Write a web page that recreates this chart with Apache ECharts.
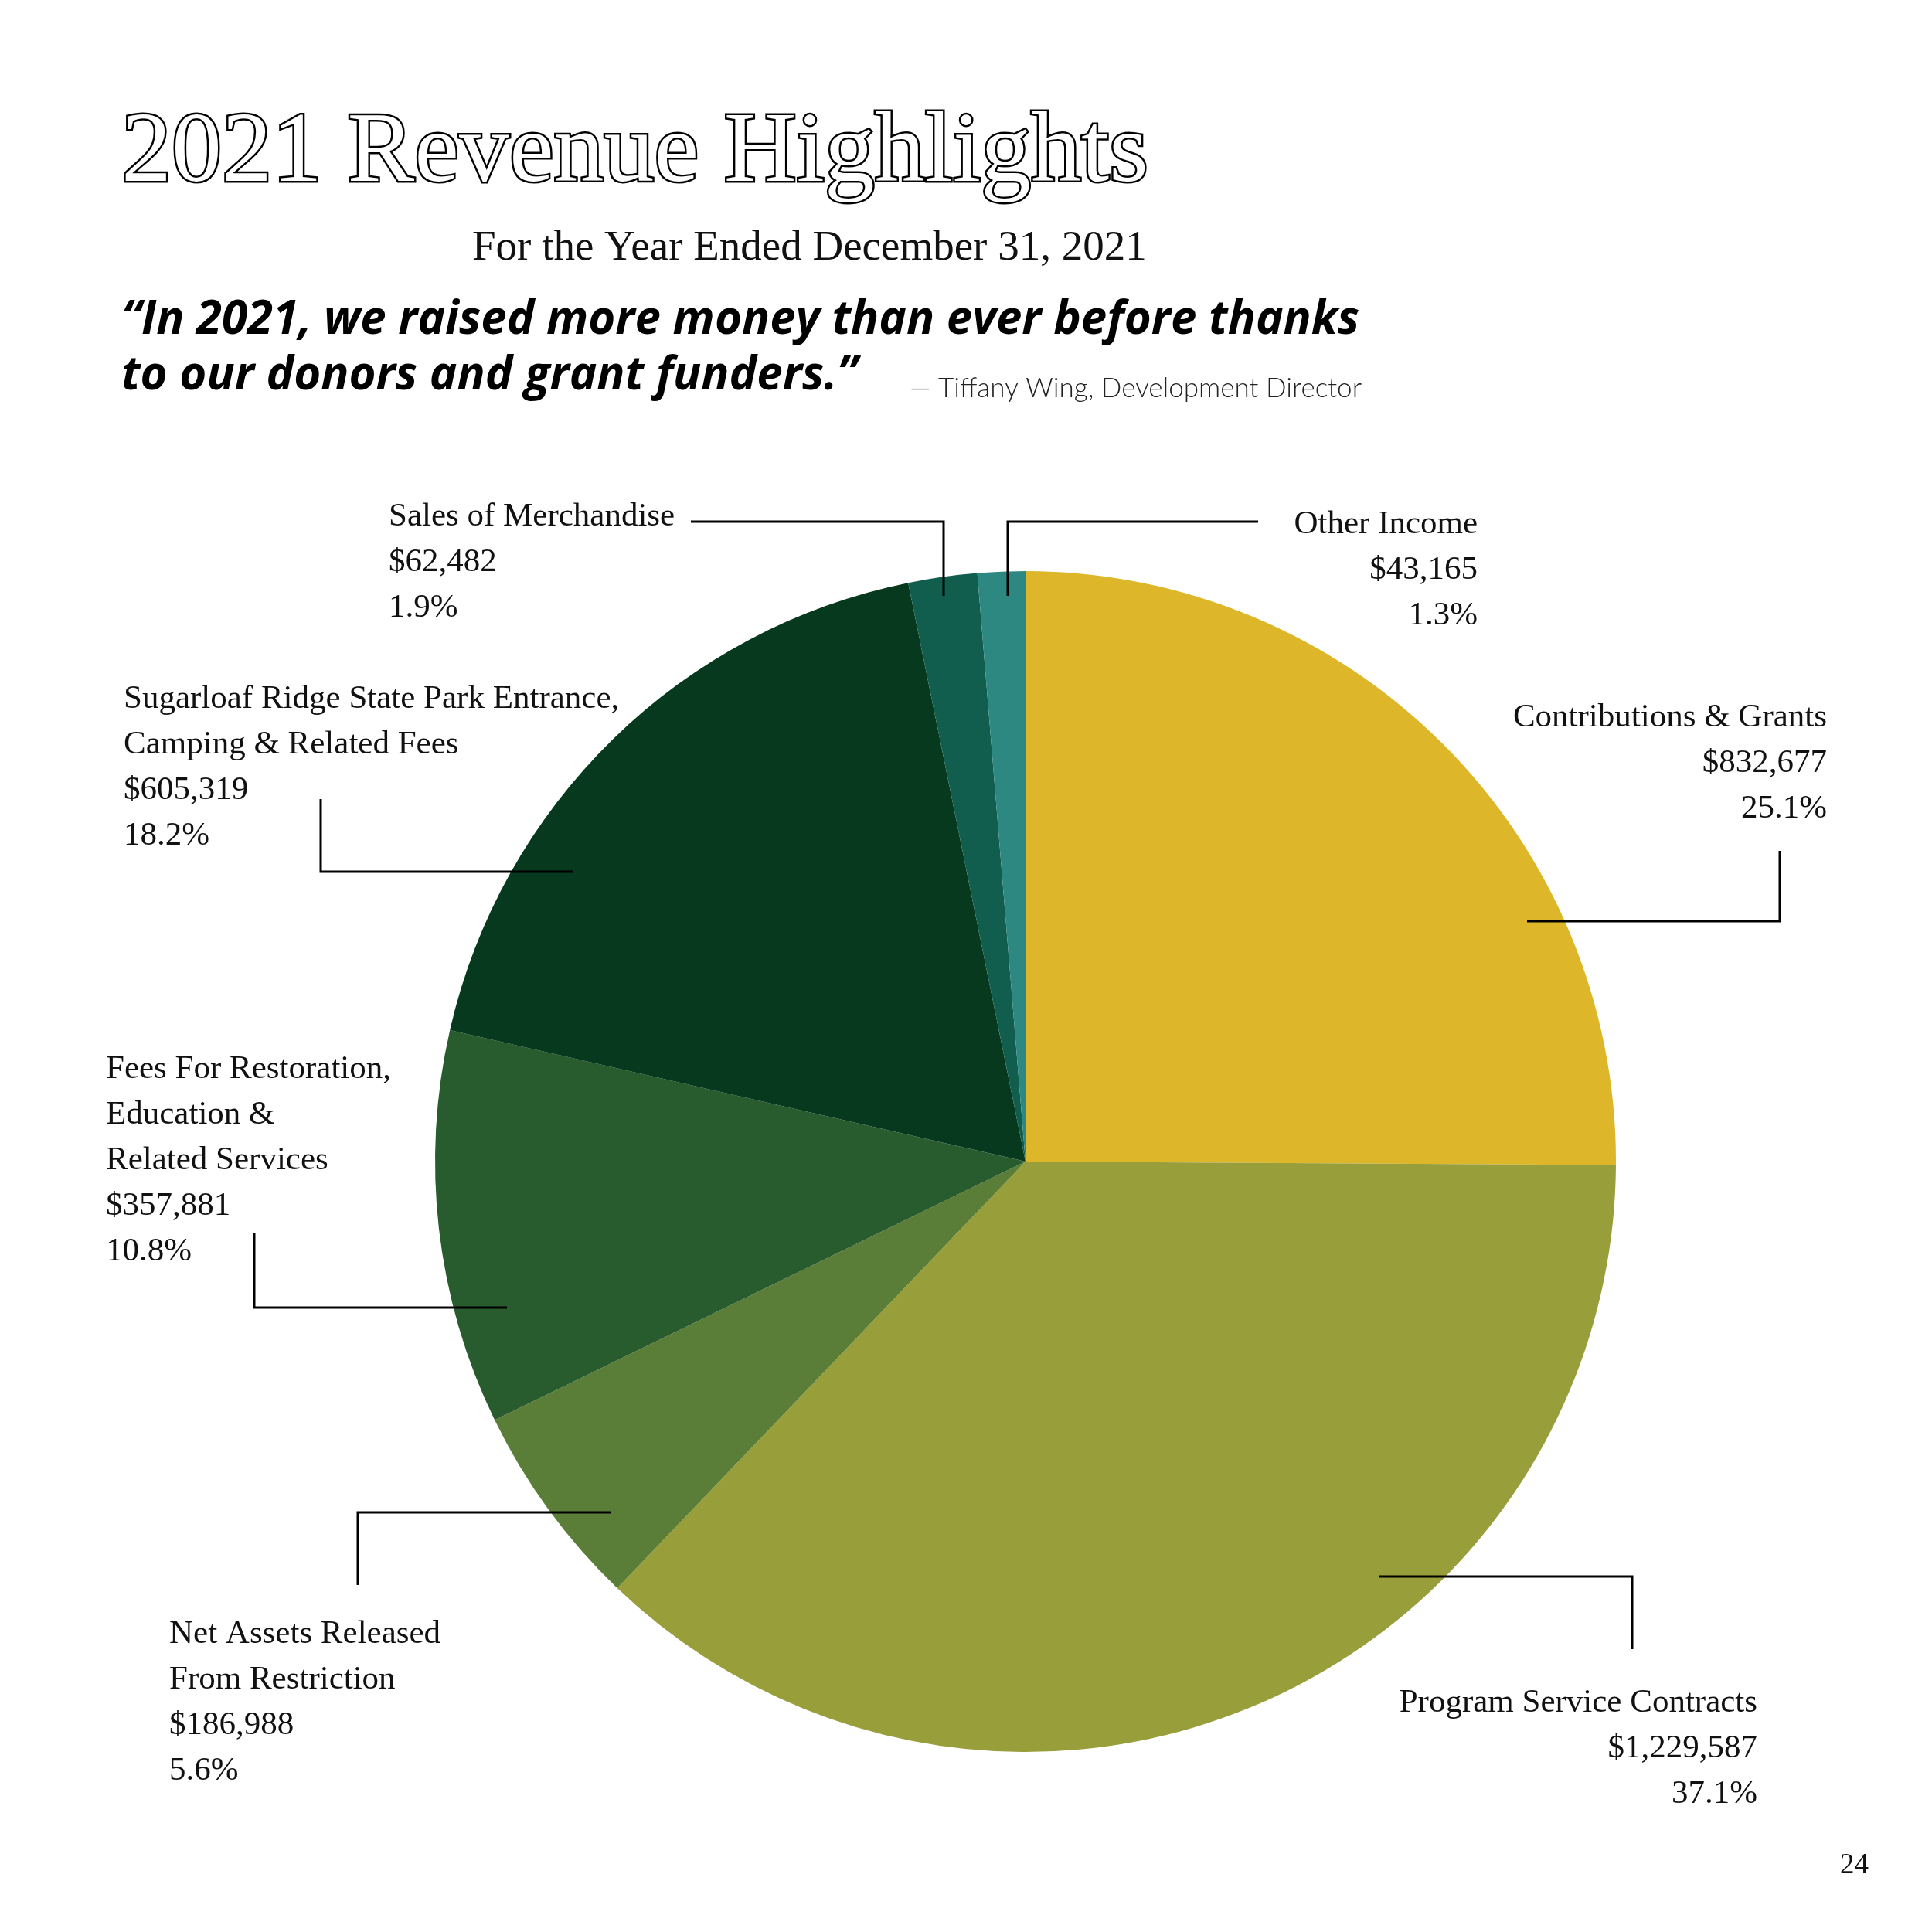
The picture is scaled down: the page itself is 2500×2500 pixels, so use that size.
<!DOCTYPE html>
<html>
<head>
<meta charset="utf-8">
<script src="https://cdn.jsdelivr.net/npm/echarts@6/dist/echarts.min.js"></script>
<style>html,body{margin:0;padding:0;background:#fff}#c{width:2500px;height:2500px}</style>
</head>
<body>
<div id="c"></div>
<script>
// ---- data ----
const categories = [
  'Contributions & Grants',
  'Program Service Contracts',
  'Net Assets Released\nFrom Restriction',
  'Fees For Restoration,\nEducation &\nRelated Services',
  'Sugarloaf Ridge State Park Entrance,\nCamping & Related Fees',
  'Sales of Merchandise',
  'Other Income'
];
const amounts = [832677, 1229587, 186988, 357881, 605319, 62482, 43165];
const percents = ['25.1%', '37.1%', '5.6%', '10.8%', '18.2%', '1.9%', '1.3%'];
const sliceColors = ['#DEB629', '#989E3A', '#5A7E38', '#285B2D', '#07391F', '#115E4E', '#2D8881'];

const titleText = '2021 Revenue Highlights';
const subtitleText = 'For the Year Ended December 31, 2021';
const quoteLine1 = '\u201CIn 2021, we raised more money than ever before thanks';
const quoteLine2 = 'to our donors and grant funders.\u201D';
const attribution = '\u2014 Tiffany Wing, Development Director';
const pageNumber = '24';

// ---- label placement (layout only) ----
const labelPlacement = [
  { x: 2364, y: 899,  align: 'right', line: [[1976,1192],[2303,1192],[2303,1101]] },
  { x: 2274, y: 2174, align: 'right', line: [[1784,2040],[2112,2040],[2112,2134]] },
  { x: 219,  y: 2085, align: 'left',  line: [[790,1957],[463,1957],[463,2051]] },
  { x: 137,  y: 1354, align: 'left',  line: [[656,1692],[329,1692],[329,1596]] },
  { x: 160,  y: 875,  align: 'left',  line: [[742,1128],[415,1128],[415,1034]] },
  { x: 503,  y: 639,  align: 'left',  line: [[1221,771],[1221,675],[894,675]] },
  { x: 1912, y: 649,  align: 'right', line: [[1304,771],[1304,675],[1628,675]] }
];

const pieData = categories.map((n, i) => ({
  name: n, value: amounts[i], itemStyle: { color: sliceColors[i] }
}));
const overlayData = categories.map((n, i) => ({
  name: n, value: amounts[i], itemStyle: { color: 'rgba(0,0,0,0)' }
}));

const chart = echarts.init(document.getElementById('c'), null, { renderer: 'canvas' });
const serif = '"Liberation Serif", "DejaVu Serif", serif';
const sans = '"Open Sans", Lato, "Noto Sans", sans-serif';

const pieCommon = {
  type: 'pie',
  center: [1327, 1503],
  radius: [0, 764],
  startAngle: 90,
  clockwise: true,
  avoidLabelOverlap: false,
  silent: true,
  emphasis: { disabled: true }
};

chart.setOption({
  backgroundColor: '#ffffff',
  animation: false,
  title: [
    { text: titleText, left: 152, top: 130,
      textStyle: { fontFamily: serif, fontSize: 130, fontWeight: 'normal', color: '#ffffff',
        textBorderColor: '#000', textBorderWidth: 5 } },
    { text: subtitleText, left: 606, top: 289,
      textStyle: { fontFamily: serif, fontSize: 55, fontWeight: 'normal', color: '#111' } },
    { text: quoteLine1, left: 152, top: 380,
      textStyle: { fontFamily: sans, fontSize: 60, fontWeight: 'bold', fontStyle: 'italic', color: '#000' } },
    { text: quoteLine2, left: 152, top: 452,
      textStyle: { fontFamily: sans, fontSize: 60, fontWeight: 'bold', fontStyle: 'italic', color: '#000' } },
    { text: attribution, right: 733, top: 480,
      textStyle: { fontFamily: 'Lato, sans-serif', fontSize: 35, fontWeight: 300, color: '#222' } },
    { text: pageNumber, right: 77, top: 2391,
      textStyle: { fontFamily: serif, fontSize: 37, fontWeight: 'normal', color: '#111' } }
  ],
  series: [
    Object.assign({}, pieCommon, {
      z: 2,
      data: pieData,
      itemStyle: { borderWidth: 0 },
      label: { show: false },
      labelLine: { show: false }
    }),
    Object.assign({}, pieCommon, {
      z: 5,
      data: overlayData,
      itemStyle: { borderWidth: 0 },
      label: {
        show: true,
        position: 'outside',
        fontFamily: serif,
        fontSize: 43,
        lineHeight: 59,
        color: '#111',
        formatter: p => p.name + '\n$' + p.value.toLocaleString('en-US') + '\n' + percents[p.dataIndex]
      },
      labelLine: { show: true, smooth: false, lineStyle: { color: '#000', width: 3 } },
      labelLayout: function (params) {
        const L = labelPlacement[params.dataIndex];
        return { x: L.x, y: L.y, align: L.align, verticalAlign: 'top', labelLinePoints: L.line };
      }
    })
  ]
});
</script>
</body>
</html>
